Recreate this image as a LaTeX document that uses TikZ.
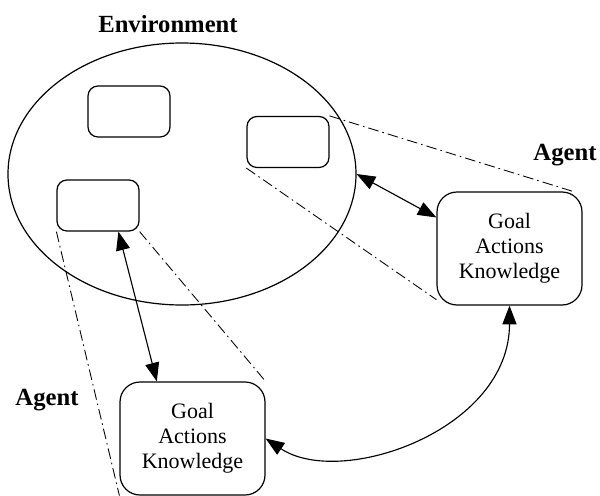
\documentclass[tikz,border=0pt]{standalone}
\usepackage{fontspec}
\setmainfont{Liberation Serif}
\usetikzlibrary{shapes.geometric,arrows.meta}
\begin{document}
\begin{tikzpicture}[x=0.75pt,y=-0.75pt,
  envshape/.style={draw,ellipse,line width=0.9pt,minimum width=261pt,minimum height=196.5pt,inner sep=0pt},
  smallbox/.style={draw,rectangle,rounded corners=7.5pt,line width=0.9pt,minimum width=61.5pt,minimum height=38.25pt,inner sep=0pt},
  agentbox/.style={draw,rectangle,rounded corners=15pt,line width=0.9pt,minimum width=108.75pt,minimum height=84.75pt,inner sep=0pt,align=center,font=\fontsize{16.5}{18.75}\selectfont},
  lbl/.style={font=\fontsize{18.5}{20}\selectfont\bfseries,inner sep=0pt},
  link/.style={line width=0.85pt,{Triangle[length=14pt,width=10.5pt]}-{Triangle[length=14pt,width=10.5pt]}},
  proj/.style={line width=0.65pt,dash pattern=on 8pt off 3pt on 1.2pt off 3pt}]
\useasboundingbox (0,0) rectangle (600,496);
\node[envshape] (env) at (182,174) {};
\node[lbl] (envlbl) at (168,24) {Environment};
\node[smallbox] (box1) at (129,111.5) {};
\node[smallbox] (box2) at (288,142) {};
\node[smallbox] (box3) at (98,205.5) {};
\node[agentbox] (agentR) at (509.5,248.5) {Goal\\Actions\\Knowledge};
\node[agentbox] (agentB) at (192.5,438.5) {Goal\\Actions\\Knowledge};
\node[lbl] (lblR) at (565,155) {Agent};
\node[lbl] (lblB) at (47,400) {Agent};
\draw[proj] (box2.north east) -- (agentR.42);
\draw[proj] (box2.south west) -- (agentR.215);
\draw[proj] (box3.south west) -- (agentB.south west);
\draw[proj] (box3.south east) -- (agentB.north east);
\draw[link] (env.east) -- (agentR.157);
\draw[link] (box3.-52) -- (agentB.122);
\draw[link] (agentB.east) .. controls +(75,50) and +(0,125) .. (agentR.south);
\end{tikzpicture}
\end{document}
